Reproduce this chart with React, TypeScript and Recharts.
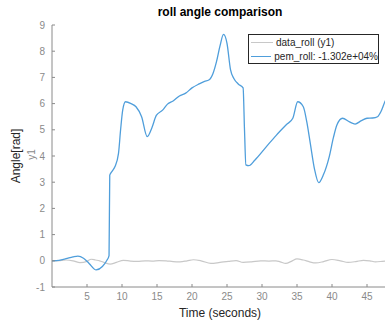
import { LineChart, Line, XAxis, YAxis } from "recharts";

const pemTime = [
  0, 1, 2, 3, 3.7, 4.5, 5.3, 6.3, 7.2, 7.8, 8.15, 8.25, 8.6, 9.0, 9.5, 9.8,
  10.1, 10.5, 11.3, 12.0, 12.8, 13.6, 14.3, 14.9, 15.8, 16.5, 17.3, 18.2, 19.1,
  20.0, 21.0, 21.8, 22.4, 23.0, 23.5, 24.0, 24.5, 25.0, 25.5, 26.0, 26.6, 27.3,
  27.5, 27.7, 28.1, 29.0, 30.6, 32.0, 33.5, 34.4, 35.1, 35.9, 36.4, 36.9, 37.5,
  38.1, 38.8, 39.6, 40.2, 40.7, 41.5, 42.5, 43.3, 44.2, 45.0, 45.8, 46.5, 47.0,
  47.6, 48,
];
const pemRoll = [
  0, 0.02, 0.08, 0.15, 0.18, 0.1, -0.1, -0.35, -0.22, 0.0, 0.2, 3.27, 3.42,
  3.6, 4.1, 5.0, 5.75, 6.07, 6.0, 5.88, 5.5, 4.74, 5.1, 5.55, 5.75, 5.98, 6.1,
  6.29, 6.4, 6.6, 6.75, 6.85, 6.9, 7.15, 7.6, 8.2, 8.64, 8.3, 7.3, 6.95, 6.75,
  6.6, 5.0, 3.66, 3.63, 3.85, 4.35, 4.78, 5.2, 5.44, 6.07, 5.88, 5.3, 4.48,
  3.5, 2.98, 3.3, 3.97, 4.7, 5.18, 5.44, 5.3, 5.22, 5.35, 5.44, 5.45, 5.5,
  5.7, 6.1, 6.3,
];

const dataTime = [
  0, 1, 2, 3, 4, 5, 5.6, 6.2, 6.8, 7.5, 8.3, 9.2, 10.2, 11.2, 12.2, 13.3,
  14.3, 15.3, 16.3, 17.3, 18.3, 19.3, 20.2, 21.3, 22.7, 24.0, 25.2, 26.3, 27.3,
  28.5, 29.8, 31.0, 32.0, 32.6, 33.4, 34.2, 35.0, 35.9, 36.8, 37.7, 38.8,
  40.0, 41.2, 42.3, 43.4, 44.5, 45.4, 46.2, 47.2, 48,
];
const dataRoll = [
  0, 0.01, 0.03, 0.0, -0.07, -0.02, 0.06, 0.03, 0.0, -0.07, -0.13, -0.06, 0.02,
  -0.01, -0.02, 0.0, -0.01, 0.01, 0.0, -0.03, -0.04, 0.0, 0.04, 0.0, -0.1,
  -0.06, -0.02, 0.01, -0.06, -0.04, 0.0, -0.01, 0.0, -0.04, -0.1, -0.02, 0.07,
  0.03, -0.04, -0.08, -0.03, 0.05, 0.0, -0.06, -0.03, 0.02, 0.0, -0.04, -0.02,
  0,
];

const xTicks = [5, 10, 15, 20, 25, 30, 35, 40, 45];
const yTicks = [-1, 0, 1, 2, 3, 4, 5, 6, 7, 8, 9];

const legendItems = [
  { name: "data_roll (y1)", color: "#c8c8c8" },
  { name: "pem_roll: -1.302e+04%", color: "#4f9edb" },
];

const pem = pemTime.map((t, i) => ({ t, v: pemRoll[i] }));
const meas = dataTime.map((t, i) => ({ t, v: dataRoll[i] }));

const font = "'Liberation Sans', Arial, sans-serif";
const axisColor = "#8a8a8a";

function LegendBox() {
  return (
    <div
      style={{
        position: "absolute",
        left: 248,
        top: 34,
        width: 129,
        height: 27,
        border: "1px solid #262626",
        background: "#fff",
        padding: "1px 0 0 0",
        fontFamily: font,
        fontSize: 10,
        color: "#262626",
        whiteSpace: "nowrap",
      }}
    >
      {legendItems.map((it) => (
        <div
          key={it.name}
          style={{ display: "flex", alignItems: "center", height: 13.5 }}
        >
          <span
            style={{
              display: "inline-block",
              width: 22,
              height: 0,
              borderTop: `1.3px solid ${it.color}`,
              margin: "0 3px 0 2px",
            }}
          />
          <span>{it.name}</span>
        </div>
      ))}
    </div>
  );
}

export default function App() {
  return (
    <div
      style={{
        position: "absolute",
        left: 0,
        top: 0,
        width: 385,
        height: 326,
        overflow: "hidden",
        background: "#fff",
        fontFamily: font,
      }}
    >
      <div
        style={{
          position: "absolute",
          left: 120,
          width: 200,
          top: 5,
          textAlign: "center",
          fontWeight: "bold",
          fontSize: 12,
          color: "#000",
        }}
      >
        roll angle comparison
      </div>
      <div
        style={{
          position: "absolute",
          left: 160,
          width: 120,
          top: 306,
          textAlign: "center",
          fontSize: 12,
          color: "#262626",
        }}
      >
        Time (seconds)
      </div>
      <div
        style={{
          position: "absolute",
          left: -44,
          top: 149,
          width: 120,
          textAlign: "center",
          fontSize: 12,
          color: "#262626",
          transform: "rotate(-90deg)",
        }}
      >
        Angle[rad]
      </div>
      <div
        style={{
          position: "absolute",
          left: -29,
          top: 149,
          width: 120,
          textAlign: "center",
          fontSize: 10,
          color: axisColor,
          transform: "rotate(-90deg)",
        }}
      >
        y1
      </div>
      <LineChart
        width={392}
        height={326}
        margin={{ top: 25, right: 4, left: 22, bottom: 9 }}
        style={{ position: "absolute", left: 0, top: 0 }}
      >
        <XAxis
          xAxisId="b"
          dataKey="t"
          type="number"
          domain={[0, 48]}
          ticks={xTicks}
          allowDataOverflow
          height={30}
          tickSize={-3}
          tickMargin={9}
          stroke={axisColor}
          tick={{ fill: axisColor, fontSize: 10, fontFamily: font }}
        />
        <XAxis
          xAxisId="top"
          orientation="top"
          dataKey="t"
          type="number"
          domain={[0, 48]}
          ticks={xTicks}
          height={0}
          tickSize={-3}
          tick={false}
          stroke={axisColor}
        />
        <YAxis
          yAxisId="l"
          type="number"
          domain={[-1, 9]}
          ticks={yTicks}
          width={30}
          tickSize={-3}
          tickMargin={10}
          stroke={axisColor}
          tick={{ fill: axisColor, fontSize: 10, fontFamily: font }}
        />
        <Line
          xAxisId="b"
          yAxisId="l"
          data={meas}
          dataKey="v"
          type="monotone"
          stroke="#c8c8c8"
          strokeWidth={1.2}
          dot={false}
          isAnimationActive={false}
        />
        <Line
          xAxisId="b"
          yAxisId="l"
          data={pem}
          dataKey="v"
          type="monotone"
          stroke="#4f9edb"
          strokeWidth={1.3}
          dot={false}
          isAnimationActive={false}
        />
      </LineChart>
      <LegendBox />
    </div>
  );
}
